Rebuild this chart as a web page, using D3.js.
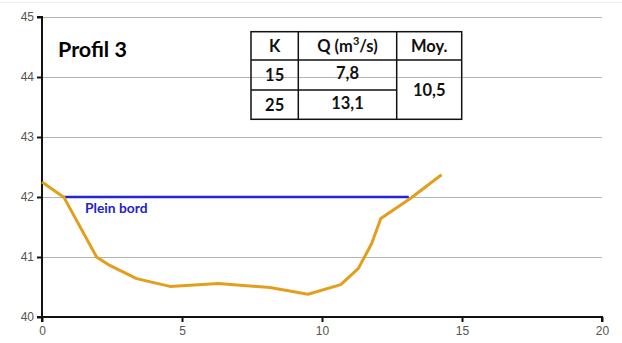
<!DOCTYPE html>
<html><head><meta charset="utf-8">
<script src="https://cdn.jsdelivr.net/npm/d3@7"></script>
<style>body{margin:0;background:#fff}svg{display:block}</style>
</head><body>
<svg id="c" width="622" height="343"></svg>
<script>
// Data
const profileX = [0, 0.79, 1.95, 2.42, 3.38, 4.57, 6.3, 8.14, 9.5, 10.67, 11.3, 11.77, 12.1, 13.14, 14.27];
const profileY = [42.25, 41.99, 41.0, 40.86, 40.64, 40.51, 40.56, 40.49, 40.38, 40.54, 40.81, 41.22, 41.64, 41.97, 42.37];
const bankfullX = [0.8, 13.1];
const bankfullY = [42.0, 42.0];
const xTicks = [0, 5, 10, 15, 20];
const yTicks = [40, 41, 42, 43, 44, 45];
const tableHeader = ["K", "Q (m³/s)", "Moy."];
const tableK = ["15", "25"];
const tableQ = ["7,8", "13,1"];
const tableMoy = "10,5";

const svg = d3.select("#c");
const x = d3.scaleLinear().domain([0, 20]).range([42, 602]);
const y = d3.scaleLinear().domain([40, 45]).range([317, 17]);

// faint frame line at top
svg.append("line").attr("x1", 0).attr("x2", 622).attr("y1", 2.5).attr("y2", 2.5)
  .attr("stroke", "#eeeeee").attr("stroke-width", 1);

// gridlines
svg.append("g").selectAll("line").data(yTicks.filter(d => d > 40)).join("line")
  .attr("x1", x(0)).attr("x2", x(20))
  .attr("y1", d => y(d) + 0.5).attr("y2", d => y(d) + 0.5)
  .attr("stroke", "#b4b4b4").attr("stroke-width", 1);

// axes
const font = "'Liberation Sans', Arial, sans-serif";
const gy = svg.append("g").attr("transform", `translate(${x(0)},0)`)
  .call(d3.axisLeft(y).tickValues(yTicks).tickSize(5).tickPadding(3).tickFormat(d3.format("d")));
const gx = svg.append("g").attr("transform", `translate(0,${y(40)})`)
  .call(d3.axisBottom(x).tickValues(xTicks).tickSize(5).tickPadding(4).tickFormat(d3.format("d")));
[gx, gy].forEach(g => {
  g.select(".domain").attr("stroke", "#111").attr("stroke-width", 2);
  g.selectAll(".tick line").attr("stroke", "#111").attr("stroke-width", 2);
  g.selectAll("text").attr("fill", "#555").style("font-family", font).style("font-size", "12px");
});
gx.select(".domain").attr("d", `M${x(0)},5V0H${x(20)}V5`);
gy.select(".domain").attr("d", `M-5,${y(45)}H0V${y(40)}H-5`);

// bankfull line
const line = d3.line().x(d => x(d[0])).y(d => y(d[1]));
svg.append("path").datum(d3.zip(bankfullX, bankfullY)).attr("d", line)
  .attr("fill", "none").attr("stroke", "#2323d8").attr("stroke-width", 2.5);

// profile
svg.append("path").datum(d3.zip(profileX, profileY)).attr("d", line)
  .attr("fill", "none").attr("stroke", "#e39e1c").attr("stroke-width", 3)
  .attr("stroke-linejoin", "round");

// labels
const lblFont = "Lato, 'Open Sans', sans-serif";
svg.append("text").attr("x", 85).attr("y", 213).text("Plein bord")
  .attr("fill", "#2323c8").style("font-family", lblFont).style("font-weight", "bold").style("font-size", "13.8px");
svg.append("text").attr("x", 58).attr("y", 57).text("Profil 3")
  .attr("fill", "#000").style("font-family", lblFont).style("font-weight", "bold").style("font-size", "21.5px");

// table
const tx = [251, 298.3, 396.7, 461.7];
const ty = [31.7, 60, 90, 119.3];
const tg = svg.append("g").attr("stroke", "#111").attr("stroke-width", 1.5).attr("fill", "none");
tg.append("rect").attr("x", tx[0]).attr("y", ty[0]).attr("width", tx[3] - tx[0]).attr("height", ty[3] - ty[0]);
tg.append("line").attr("x1", tx[1]).attr("x2", tx[1]).attr("y1", ty[0]).attr("y2", ty[3]);
tg.append("line").attr("x1", tx[2]).attr("x2", tx[2]).attr("y1", ty[0]).attr("y2", ty[3]);
tg.append("line").attr("x1", tx[0]).attr("x2", tx[3]).attr("y1", ty[1]).attr("y2", ty[1]);
tg.append("line").attr("x1", tx[0]).attr("x2", tx[2]).attr("y1", ty[2]).attr("y2", ty[2]);
const fs = "16.5px";
const cell = (cx, cy, t) => svg.append("text").attr("x", cx).attr("y", cy).attr("text-anchor", "middle")
  .attr("dominant-baseline", "central").text(t)
  .style("font-family", lblFont).style("font-weight", "bold").style("font-size", fs).attr("fill", "#111");
const mid = (a, b) => (a + b) / 2;
tableHeader.forEach((h, i) => {
  if (i === 1) {
    const t = svg.append("text").attr("x", mid(tx[1], tx[2])).attr("y", mid(ty[0], ty[1]))
      .attr("text-anchor", "middle").attr("dominant-baseline", "central")
      .style("font-family", lblFont).style("font-weight", "bold").style("font-size", fs).attr("fill", "#111");
    t.append("tspan").text("Q (m");
    t.append("tspan").text("3").attr("dy", -6).style("font-size", "11px");
    t.append("tspan").text("/s)").attr("dy", 6);
  } else cell(mid(tx[i], tx[i + 1]), mid(ty[0], ty[1]), h);
});
tableK.forEach((k, i) => cell(mid(tx[0], tx[1]), mid(ty[i + 1], ty[i + 2]), k));
tableQ.forEach((q, i) => cell(mid(tx[1], tx[2]), mid(ty[i + 1], ty[i + 2]) - 2, q));
cell(mid(tx[2], tx[3]), mid(ty[1], ty[3]), tableMoy);
</script>
</body></html>
